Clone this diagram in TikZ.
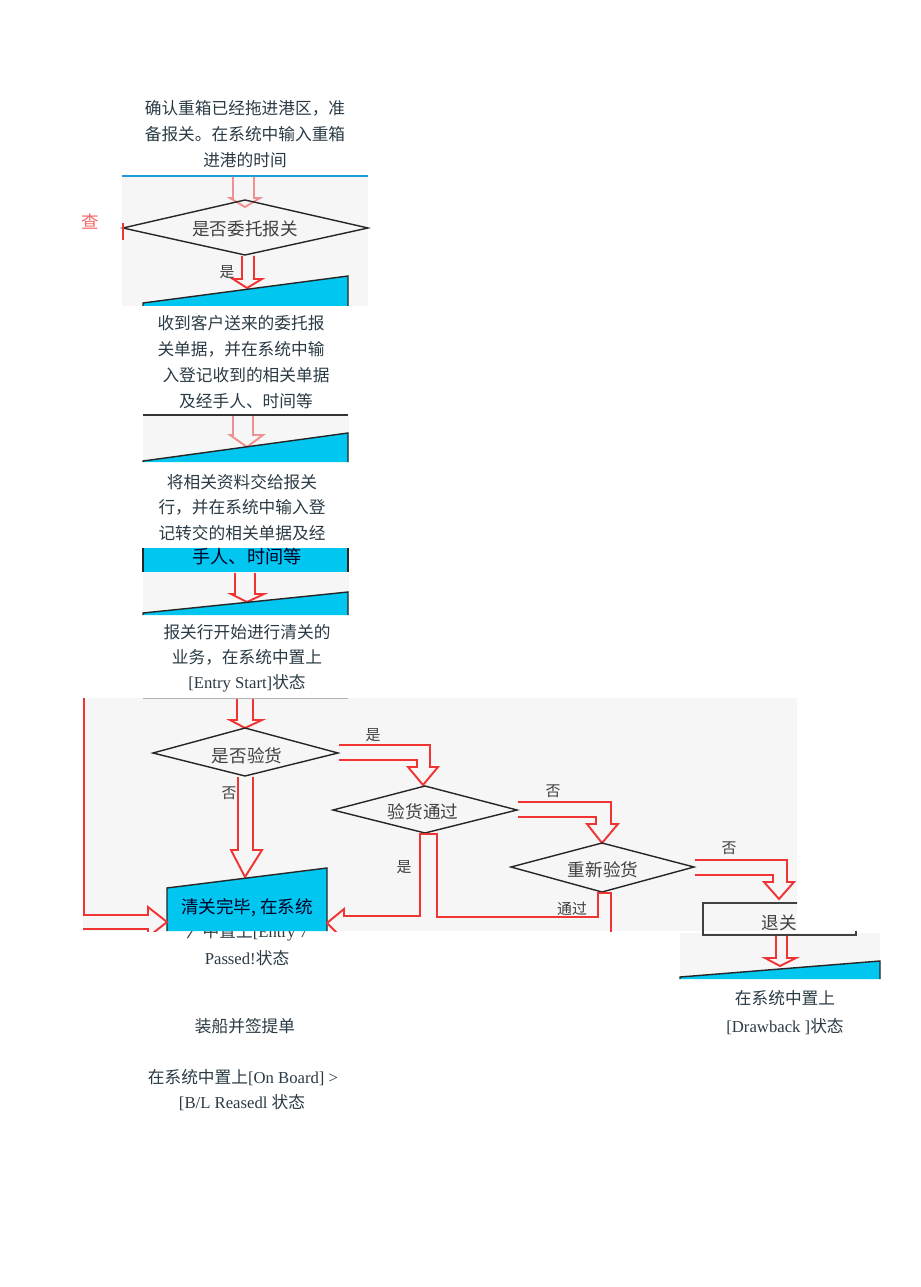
\documentclass[tikz,border=0pt]{standalone}
\usepackage{fontspec}
\setmainfont{Liberation Serif}
\newfontfamily\cjk{Noto Sans CJK SC}
\usepackage{tikz}

\definecolor{flowred}{HTML}{F03434}
\definecolor{flowpink}{HTML}{F09090}
\definecolor{flowcyan}{HTML}{00C6F0}
\definecolor{edgecyan}{HTML}{1A9ED6}
\definecolor{panelgray}{HTML}{F6F6F6}
\definecolor{doctextc}{HTML}{2A3A44}
\definecolor{boxtextc}{HTML}{404040}

\tikzset{
  panel/.style={fill=panelgray},
  redarrow/.style={draw=flowred, line width=1.1pt},
  pinkarrow/.style={draw=flowpink, line width=1.1pt},
  decision/.style={draw=black!85, line width=0.8pt},
  wedgebox/.style={fill=flowcyan, draw=black!85, line width=0.8pt},
  doctext/.style={font=\cjk\fontsize{9.5}{11}\selectfont, text=doctextc, inner sep=0pt},
  boxtext/.style={font=\cjk\fontsize{10}{12}\selectfont, text=boxtextc, inner sep=0pt},
  branchtext/.style={font=\cjk\fontsize{8.5}{10}\selectfont, text=boxtextc, inner sep=0pt}
}

\begin{document}
\begin{tikzpicture}[x=0.02cm, y=-0.02cm]
\useasboundingbox (0,0) rectangle (920,1287);

% First step text
\node[doctext] (t1a) at (245,108) {确认重箱已经拖进港区，准};
\node[doctext] (t1b) at (245,134) {备报关。在系统中输入重箱};
\node[doctext] (t1c) at (245,160) {进港的时间};

% Panel 1 with the first decision
\fill[panel] (122,175) rectangle (368,306);
\draw[edgecyan, line width=1.2pt] (122,176) -- (368,176); % bottom of box above

\coordinate (D1t) at (245,200);  % top
\coordinate (D1r) at (368,228);  % right
\coordinate (D1b) at (245,255);  % bottom
\coordinate (D1l) at (123,228);  % left
\draw[pinkarrow] (233,177) -- (233,198) -- (230,198) -- (245,207) -- (260,198) -- (254,198) -- (254,177);
\draw[decision] (D1t) -- (D1r) -- (D1b) -- (D1l) -- cycle;
\node[boxtext] (q1) at (245,229) {是否委托报关};

% Yes branch
\draw[redarrow] (242,256) -- (242,279) -- (233,279) -- (247,288) -- (262,279) -- (254,279) -- (254,256);
\node[branchtext] (yes1) at (227,272) {是};

% No branch (cut off)
\draw[flowred, line width=1.2pt] (123,223) -- (123,240);
\node[font=\cjk\fontsize{10}{12}\selectfont, text=flowred!75, inner sep=0pt] (cha) at (90,222) {查};

% Top of cyan box
\filldraw[wedgebox] (143,306) -- (143,303) -- (348,276) -- (348,306);

% Second step text
\node[doctext] (t2a) at (241,323) {收到客户送来的委托报};
\node[doctext] (t2b) at (241,349) {关单据，并在系统中输};
\node[doctext] (t2c) at (246,375) {入登记收到的相关单据};
\node[doctext] (t2d) at (246,401) {及经手人、时间等};

% Panel 2
\fill[panel] (143,415) rectangle (349,462);
\draw[black!80, line width=1.2pt] (143,415) -- (348,415);
\draw[pinkarrow] (233,416) -- (233,435) -- (230,435) -- (247,447) -- (263,435) -- (253,435) -- (253,416);
\filldraw[wedgebox] (143,462) -- (143,461) -- (348,433) -- (348,462);

% Third step text
\node[doctext] (t3a) at (242,482) {将相关资料交给报关};
\node[doctext] (t3b) at (242,507) {行，并在系统中输入登};
\node[doctext] (t3c) at (242,533) {记转交的相关单据及经};

% Panel 3
\fill[flowcyan] (143,548) rectangle (348,572);
\draw[black!85, line width=0.8pt] (143,548) -- (143,572);
\draw[black!85, line width=0.8pt] (348,548) -- (348,572);
\node[font=\cjk\fontsize{10.3}{12}\selectfont, text=black!85!blue, inner sep=0pt] (t3d) at (247,557) {手人、时间等};
\fill[panel] (143,572) rectangle (349,615);
\draw[redarrow] (235,573) -- (235,594) -- (231,594) -- (247,602) -- (264,594) -- (255,594) -- (255,573);
\filldraw[wedgebox] (143,615) -- (143,613) -- (348,592) -- (348,615);

% Fourth step text
\node[doctext] (t4a) at (247,632) {报关行开始进行清关的};
\node[doctext] (t4b) at (247,657) {业务，在系统中置上};
\node[doctext] (t4c) at (247,683) {{\rmfamily [Entry Start]}状态};

% Line half hidden under the big panel
\node[doctext] (t5b) at (247,932) {〉中置上{\rmfamily [Entry 7}};

% Big panel with the inspection decisions
\fill[panel] (83,698) rectangle (797,931);
\draw[gray!60, line width=0.5pt] (143,698) -- (348,698);

\begin{scope}
\clip (83,698) rectangle (797,931);

% Inspection decision
\coordinate (D2t) at (245,728);
\coordinate (D2r) at (338,753);
\coordinate (D2b) at (245,776);
\coordinate (D2l) at (153,753);
\draw[redarrow] (237,699) -- (237,720) -- (230,720) -- (245,728) -- (262,720) -- (253,720) -- (253,699);
\draw[decision] (D2t) -- (D2r) -- (D2b) -- (D2l) -- cycle;
\node[boxtext] (q2) at (247,756) {是否验货};
\node[branchtext] (no2) at (229,793) {否};
\node[branchtext] (yes2) at (373,735) {是};
\draw[redarrow] (238,777) -- (238,850) -- (231,850) -- (245,877) -- (262,850) -- (253,850) -- (253,777);
\draw[redarrow] (339,745) -- (430,745) -- (430,767) -- (438,767) -- (423,785) -- (408,767) -- (417,767) -- (417,760) -- (339,760);

% Inspection passed decision
\coordinate (D3t) at (425,786);
\coordinate (D3r) at (517,810);
\coordinate (D3b) at (425,833);
\coordinate (D3l) at (333,810);
\draw[decision] (D3t) -- (D3r) -- (D3b) -- (D3l) -- cycle;
\node[boxtext] (q3) at (423,812) {验货通过};
\node[branchtext] (no3) at (553,791) {否};
\node[branchtext] (yes3) at (404,867) {是};
\draw[redarrow] (518,802) -- (611,802) -- (611,824) -- (618,824) -- (602,843) -- (587,824) -- (596,824) -- (596,817) -- (518,817);

% Re-inspection decision
\coordinate (D4t) at (602,843);
\coordinate (D4r) at (694,867);
\coordinate (D4b) at (602,892);
\coordinate (D4l) at (511,867);
\draw[decision] (D4t) -- (D4r) -- (D4b) -- (D4l) -- cycle;
\node[boxtext] (q4) at (603,870) {重新验货};
\node[branchtext] (no4) at (729,848) {否};
\node[branchtext] (pass4) at (572,909) {通过};
\draw[redarrow] (695,860) -- (787,860) -- (787,882) -- (794,882) -- (779,899) -- (764,882) -- (773,882) -- (773,875) -- (695,875);

% Drawback box (top part)
\draw[black!75, line width=0.9pt] (703,931) -- (703,903) -- (860,903);
\node[boxtext] (back) at (779,923) {退关};

% Clearance finished box
\filldraw[wedgebox] (167,931) -- (167,888) -- (327,868) -- (327,931);
\node[font=\cjk\fontsize{10}{12}\selectfont, text=black!85!blue, inner sep=0pt] (t5a) at (247,908) {清关完毕, 在系统};

% Arrows into the box
\draw[redarrow] (84,698) -- (84,915) -- (148,915) -- (148,907) -- (167,922) -- (148,937) -- (148,929) -- (83,929);
\draw[redarrow] (344,940) -- (327,923) -- (344,909) -- (344,916) -- (420,916) -- (420,834) -- (437,834) -- (437,917) -- (598,917) -- (598,893) -- (611,893) -- (611,935);
\end{scope}

% Lower right panel
\fill[panel] (680,933) rectangle (880,979);
\draw[black!75, line width=0.9pt] (703,931) -- (703,935) -- (856,935) -- (856,931);
\draw[redarrow] (776,936) -- (776,958) -- (765,958) -- (780,966) -- (796,958) -- (787,958) -- (787,936);
\filldraw[wedgebox] (680,979) -- (680,977) -- (880,961) -- (880,979);
\node[doctext] (t6a) at (785,998) {在系统中置上};
\node[doctext] (t6b) at (785,1027) {{\rmfamily [Drawback ]}状态};

% Remaining step text
\node[doctext] (t5c) at (247,958) {{\rmfamily Passed!}状态};
\node[doctext] (t7a) at (245,1026) {装船并签提单};
\node[doctext] (t8a) at (243,1078) {在系统中置上{\rmfamily [On Board] >}};
\node[doctext] (t8b) at (242,1103) {{\rmfamily [B/L Reasedl }状态};

\end{tikzpicture}
\end{document}
